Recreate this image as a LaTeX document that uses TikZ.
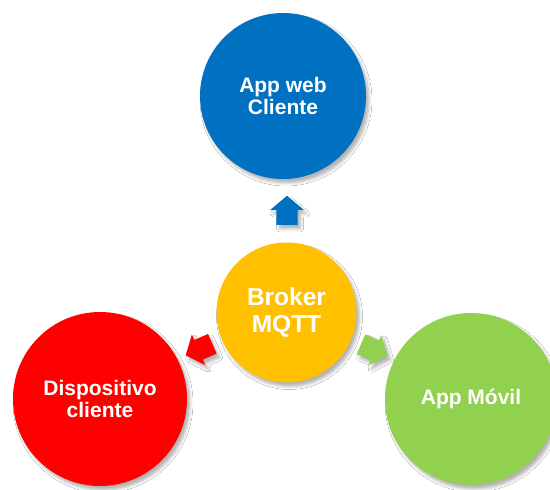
\documentclass[tikz,border=0pt]{standalone}
\usepackage{fontspec}
\setmainfont{Liberation Sans}
\usetikzlibrary{shapes.arrows,shadows.blur}
\definecolor{cblue}{HTML}{0070C0}
\definecolor{cyellow}{HTML}{FFC000}
\definecolor{cred}{HTML}{FF0000}
\definecolor{cgreen}{HTML}{92D050}
\begin{document}
\begin{tikzpicture}[x=1pt,y=-1pt,
  softshadow/.style={blur shadow={shadow xshift=3pt, shadow yshift=-4pt, shadow blur radius=3pt, shadow opacity=30}},
  ball/.style={circle, inner sep=0pt, text=white, align=center, softshadow,
    font=\bfseries\fontsize{21}{22}\selectfont},
  blockarrow/.style={single arrow, draw=none, inner xsep=0pt, inner ysep=10.5pt,
    minimum height=29pt, single arrow head extend=6pt, single arrow tip angle=100,
    anchor=tail, softshadow}]
\clip (0,0) rectangle (550,490);
\fill[white] (0,0) rectangle (550,490);
% circles
\node[ball, fill=cblue, minimum size=166pt] (web) at (283,96) {App web\\Cliente};
\node[ball, fill=cred, minimum size=174pt] (disp) at (100,399) {Dispositivo\\cliente};
\node[ball, fill=cgreen, minimum size=172pt] (movil) at (471,399) {App Móvil};
\node[ball, fill=cyellow, minimum size=140pt, font=\bfseries\fontsize{24.5}{27}\selectfont] (broker) at (286.5,312.5) {Broker\\MQTT};
% arrows
\node[blockarrow, fill=cblue, rotate=90] (aw) at (287,225) {};
\node[blockarrow, fill=cred, rotate=203.5] (ad) at (212.5,343.7) {};
\node[blockarrow, fill=cgreen, rotate=-23.5] (am) at (360.8,344.2) {};
\end{tikzpicture}
\end{document}
